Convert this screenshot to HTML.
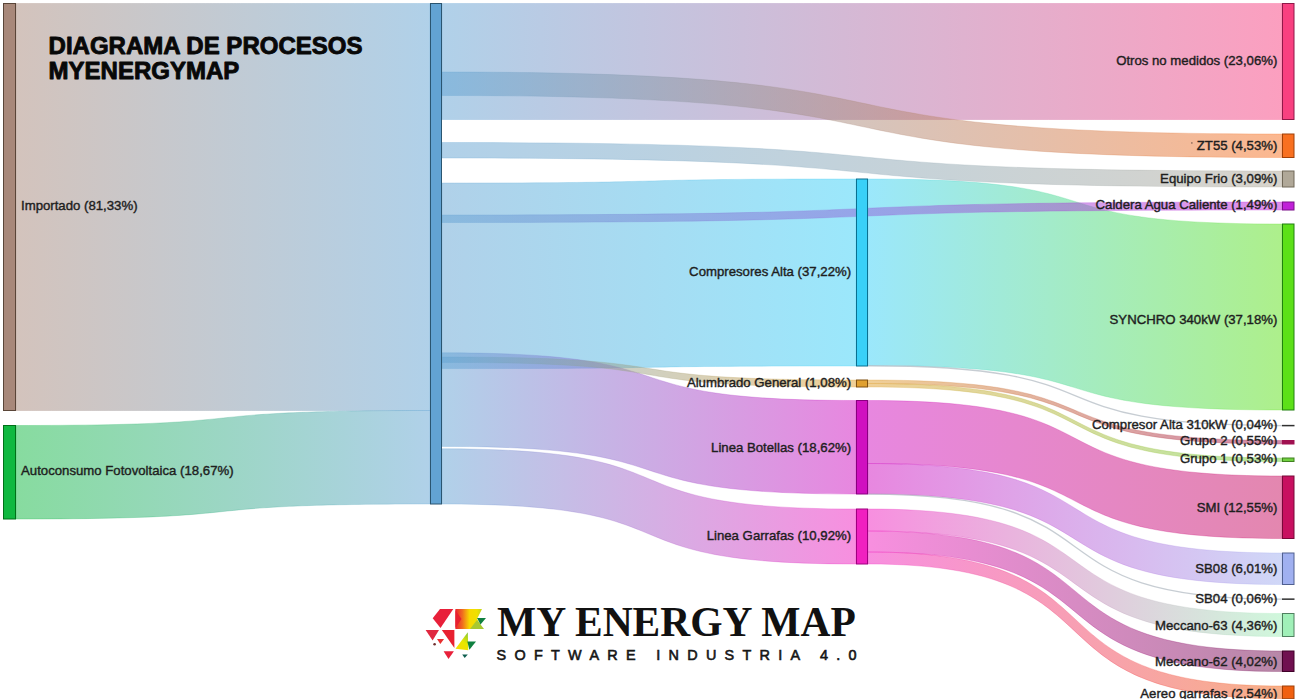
<!DOCTYPE html>
<html><head><meta charset="utf-8"><title>Diagrama de procesos</title>
<style>
html,body{margin:0;padding:0;background:#fff;width:1298px;height:699px;overflow:hidden}
svg{display:block}
svg{font-family:"Liberation Sans",sans-serif}
</style></head><body>
<svg width="1298" height="699" viewBox="0 0 1298 699">
<defs>
<linearGradient id="g0" gradientUnits="userSpaceOnUse" x1="16.0" y1="0" x2="430.0" y2="0"><stop offset="0" stop-color="#a8887a"/><stop offset="1" stop-color="#62a3d3"/></linearGradient>
<linearGradient id="g1" gradientUnits="userSpaceOnUse" x1="16.0" y1="0" x2="430.0" y2="0"><stop offset="0" stop-color="#10b840"/><stop offset="1" stop-color="#62a3d3"/></linearGradient>
<linearGradient id="g2" gradientUnits="userSpaceOnUse" x1="442.0" y1="0" x2="1282.0" y2="0"><stop offset="0" stop-color="#62a3d3"/><stop offset="1" stop-color="#f84080"/></linearGradient>
<linearGradient id="g3" gradientUnits="userSpaceOnUse" x1="442.0" y1="0" x2="1282.0" y2="0"><stop offset="0" stop-color="#62a3d3"/><stop offset="1" stop-color="#f87020"/></linearGradient>
<linearGradient id="g4" gradientUnits="userSpaceOnUse" x1="442.0" y1="0" x2="1282.0" y2="0"><stop offset="0" stop-color="#62a3d3"/><stop offset="1" stop-color="#b0a898"/></linearGradient>
<linearGradient id="g5" gradientUnits="userSpaceOnUse" x1="442.0" y1="0" x2="856.0" y2="0"><stop offset="0" stop-color="#62a3d3"/><stop offset="1" stop-color="#38d0f8"/></linearGradient>
<linearGradient id="g6" gradientUnits="userSpaceOnUse" x1="442.0" y1="0" x2="856.0" y2="0"><stop offset="0" stop-color="#62a3d3"/><stop offset="1" stop-color="#d010c0"/></linearGradient>
<linearGradient id="g7" gradientUnits="userSpaceOnUse" x1="442.0" y1="0" x2="856.0" y2="0"><stop offset="0" stop-color="#62a3d3"/><stop offset="1" stop-color="#e0a030"/></linearGradient>
<linearGradient id="g8" gradientUnits="userSpaceOnUse" x1="442.0" y1="0" x2="856.0" y2="0"><stop offset="0" stop-color="#62a3d3"/><stop offset="1" stop-color="#f020c0"/></linearGradient>
<linearGradient id="g9" gradientUnits="userSpaceOnUse" x1="868.0" y1="0" x2="1282.0" y2="0"><stop offset="0" stop-color="#38d0f8"/><stop offset="1" stop-color="#5ce018"/></linearGradient>
<linearGradient id="g10" gradientUnits="userSpaceOnUse" x1="868.0" y1="0" x2="1282.0" y2="0"><stop offset="0" stop-color="#38d0f8"/><stop offset="1" stop-color="#303030"/></linearGradient>
<linearGradient id="g11" gradientUnits="userSpaceOnUse" x1="868.0" y1="0" x2="1282.0" y2="0"><stop offset="0" stop-color="#e0a030"/><stop offset="1" stop-color="#a01050"/></linearGradient>
<linearGradient id="g12" gradientUnits="userSpaceOnUse" x1="868.0" y1="0" x2="1282.0" y2="0"><stop offset="0" stop-color="#e0a030"/><stop offset="1" stop-color="#70d040"/></linearGradient>
<linearGradient id="g13" gradientUnits="userSpaceOnUse" x1="868.0" y1="0" x2="1282.0" y2="0"><stop offset="0" stop-color="#d010c0"/><stop offset="1" stop-color="#c81060"/></linearGradient>
<linearGradient id="g14" gradientUnits="userSpaceOnUse" x1="868.0" y1="0" x2="1282.0" y2="0"><stop offset="0" stop-color="#d010c0"/><stop offset="1" stop-color="#a0b0f0"/></linearGradient>
<linearGradient id="g15" gradientUnits="userSpaceOnUse" x1="868.0" y1="0" x2="1282.0" y2="0"><stop offset="0" stop-color="#d010c0"/><stop offset="1" stop-color="#303030"/></linearGradient>
<linearGradient id="g16" gradientUnits="userSpaceOnUse" x1="868.0" y1="0" x2="1282.0" y2="0"><stop offset="0" stop-color="#f020c0"/><stop offset="1" stop-color="#a0f0b8"/></linearGradient>
<linearGradient id="g17" gradientUnits="userSpaceOnUse" x1="868.0" y1="0" x2="1282.0" y2="0"><stop offset="0" stop-color="#f020c0"/><stop offset="1" stop-color="#701050"/></linearGradient>
<linearGradient id="g18" gradientUnits="userSpaceOnUse" x1="868.0" y1="0" x2="1282.0" y2="0"><stop offset="0" stop-color="#f020c0"/><stop offset="1" stop-color="#f06010"/></linearGradient>
<linearGradient id="g19" gradientUnits="userSpaceOnUse" x1="442.0" y1="0" x2="1282.0" y2="0"><stop offset="0" stop-color="#62a3d3"/><stop offset="1" stop-color="#c020d8"/></linearGradient>
</defs>
<rect width="1298" height="699" fill="#fff"/>
<g fill-opacity="0.5">
<path d="M16.0,3.5C285.10,3.5 160.90,3.5 430.0,3.5L430.0,410.5C160.90,410.5 285.10,410.5 16.0,410.5Z" fill="url(#g0)" stroke="url(#g0)" stroke-opacity="0.35" stroke-width="0.8"/>
<path d="M16.0,425.5C285.10,425.5 160.90,410.5 430.0,410.5L430.0,504C160.90,504 285.10,519 16.0,519Z" fill="url(#g1)" stroke="url(#g1)" stroke-opacity="0.35" stroke-width="0.8"/>
<path d="M442.0,3.5C988.00,3.5 736.00,3.5 1282.0,3.5L1282.0,119.5C736.00,119.5 988.00,119.5 442.0,119.5Z" fill="url(#g2)" stroke="url(#g2)" stroke-opacity="0.35" stroke-width="0.8"/>
<path d="M442.0,72C988.00,72 736.00,134 1282.0,134L1282.0,157.5C736.00,157.5 988.00,95.5 442.0,95.5Z" fill="url(#g3)" stroke="url(#g3)" stroke-opacity="0.35" stroke-width="0.8"/>
<path d="M442.0,142.5C988.00,142.5 736.00,171 1282.0,171L1282.0,187C736.00,187 988.00,158 442.0,158Z" fill="url(#g4)" stroke="url(#g4)" stroke-opacity="0.35" stroke-width="0.8"/>
<path d="M442.0,183C711.10,183 586.90,179 856.0,179L856.0,366C586.90,366 711.10,368.6 442.0,368.6Z" fill="url(#g5)" stroke="url(#g5)" stroke-opacity="0.35" stroke-width="0.8"/>
<path d="M442.0,352.8C711.10,352.8 586.90,400.5 856.0,400.5L856.0,494C586.90,494 711.10,446.4 442.0,446.4Z" fill="url(#g6)" stroke="url(#g6)" stroke-opacity="0.35" stroke-width="0.8"/>
<path d="M442.0,357C711.10,357 586.90,380 856.0,380L856.0,387C586.90,387 711.10,362.4 442.0,362.4Z" fill="url(#g7)" stroke="url(#g7)" stroke-opacity="0.35" stroke-width="0.8"/>
<path d="M442.0,448.8C711.10,448.8 586.90,509 856.0,509L856.0,564C586.90,564 711.10,504 442.0,504Z" fill="url(#g8)" stroke="url(#g8)" stroke-opacity="0.35" stroke-width="0.8"/>
<path d="M868.0,179C1137.10,179 1012.90,224 1282.0,224L1282.0,410C1012.90,410 1137.10,365.5 868.0,365.5Z" fill="url(#g9)" stroke="url(#g9)" stroke-opacity="0.35" stroke-width="0.8"/>
<path d="M868.0,365.75C1137.10,365.75 1012.90,425.55 1282.0,425.55" fill="none" stroke="#b4bcc4" stroke-opacity="0.75" stroke-width="1.3"/>
<path d="M868.0,380C1137.10,380 1012.90,440.5 1282.0,440.5L1282.0,444C1012.90,444 1137.10,383.5 868.0,383.5Z" fill="url(#g11)" stroke="url(#g11)" stroke-opacity="0.35" stroke-width="0.8"/>
<path d="M868.0,383.5C1137.10,383.5 1012.90,458 1282.0,458L1282.0,461.5C1012.90,461.5 1137.10,387 868.0,387Z" fill="url(#g12)" stroke="url(#g12)" stroke-opacity="0.35" stroke-width="0.8"/>
<path d="M868.0,400.5C1137.10,400.5 1012.90,476 1282.0,476L1282.0,538.5C1012.90,538.5 1137.10,463.5 868.0,463.5Z" fill="url(#g13)" stroke="url(#g13)" stroke-opacity="0.35" stroke-width="0.8"/>
<path d="M868.0,463.5C1137.10,463.5 1012.90,553 1282.0,553L1282.0,584.5C1012.90,584.5 1137.10,494 868.0,494Z" fill="url(#g14)" stroke="url(#g14)" stroke-opacity="0.35" stroke-width="0.8"/>
<path d="M868.0,494.2C1137.10,494.2 1012.90,599.2 1282.0,599.2" fill="none" stroke="#b4bcc4" stroke-opacity="0.75" stroke-width="1.3"/>
<path d="M868.0,509C1137.10,509 1012.90,613.5 1282.0,613.5L1282.0,636.5C1012.90,636.5 1137.10,531 868.0,531Z" fill="url(#g16)" stroke="url(#g16)" stroke-opacity="0.35" stroke-width="0.8"/>
<path d="M868.0,531C1137.10,531 1012.90,651 1282.0,651L1282.0,671.5C1012.90,671.5 1137.10,552 868.0,552Z" fill="url(#g17)" stroke="url(#g17)" stroke-opacity="0.35" stroke-width="0.8"/>
<path d="M868.0,552C1137.10,552 1012.90,686 1282.0,686L1282.0,698.7C1012.90,698.7 1137.10,564 868.0,564Z" fill="url(#g18)" stroke="url(#g18)" stroke-opacity="0.35" stroke-width="0.8"/>
<path d="M442.0,215C988.00,215 736.00,202 1282.0,202L1282.0,210C736.00,210 988.00,222.5 442.0,222.5Z" fill="url(#g19)" stroke="url(#g19)" stroke-opacity="0.35" stroke-width="0.8"/>
</g>
<rect x="3.5" y="3.5" width="12" height="407.00" fill="#a8887a" stroke="#5a4538" stroke-width="1"/>
<rect x="3.5" y="425.5" width="12" height="93.50" fill="#10b840" stroke="#007018" stroke-width="1"/>
<rect x="430.5" y="3.5" width="11" height="500.50" fill="#62a3d3" stroke="#2a5570" stroke-width="1"/>
<rect x="856.5" y="179" width="11" height="187.00" fill="#38d0f8" stroke="#0a7090" stroke-width="1"/>
<rect x="856.5" y="380" width="11" height="7.00" fill="#e0a030" stroke="#805010" stroke-width="1"/>
<rect x="856.5" y="400.5" width="11" height="93.50" fill="#d010c0" stroke="#8a0080" stroke-width="1"/>
<rect x="856.5" y="509" width="11" height="55.00" fill="#f020c0" stroke="#a00080" stroke-width="1"/>
<rect x="1282.5" y="3.5" width="11.5" height="116.00" fill="#f84080" stroke="#901848" stroke-width="1"/>
<rect x="1282.5" y="134" width="11.5" height="23.50" fill="#f87020" stroke="#a04008" stroke-width="1"/>
<rect x="1282.5" y="171" width="11.5" height="16.00" fill="#b0a898" stroke="#706858" stroke-width="1"/>
<rect x="1282.5" y="202" width="11.5" height="8.00" fill="#c020d8" stroke="#7a1088" stroke-width="1"/>
<rect x="1282.5" y="224" width="11.5" height="186.00" fill="#5ce018" stroke="#208010" stroke-width="1"/>
<rect x="1282.0" y="424.85" width="12.5" height="1.5" fill="#303030"/>
<rect x="1282.5" y="440.5" width="11.5" height="3.50" fill="#a01050" stroke="#a01050" stroke-width="1"/>
<rect x="1282.5" y="458" width="11.5" height="3.50" fill="#70d040" stroke="#408020" stroke-width="1"/>
<rect x="1282.5" y="476" width="11.5" height="62.50" fill="#c81060" stroke="#780838" stroke-width="1"/>
<rect x="1282.5" y="553" width="11.5" height="31.50" fill="#a0b0f0" stroke="#506090" stroke-width="1"/>
<rect x="1282.0" y="598.4" width="12.5" height="1.5" fill="#303030"/>
<rect x="1282.5" y="613.5" width="11.5" height="23.00" fill="#a0f0b8" stroke="#508060" stroke-width="1"/>
<rect x="1282.5" y="651" width="11.5" height="20.50" fill="#701050" stroke="#400028" stroke-width="1"/>
<rect x="1282.5" y="686" width="11.5" height="12.70" fill="#f06010" stroke="#a04008" stroke-width="1"/>
<g font-size="13.2" fill="#1e1e1e" stroke="#1e1e1e" stroke-width="0.4">
<text x="21" y="210.30" text-anchor="start">Importado (81,33%)</text>
<text x="21" y="475.20" text-anchor="start">Autoconsumo Fotovoltaica (18,67%)</text>
<text x="851.1" y="276.10" text-anchor="end">Compresores Alta (37,22%)</text>
<text x="851.1" y="387.00" text-anchor="end">Alumbrado General (1,08%)</text>
<text x="851.1" y="452.30" text-anchor="end">Linea Botellas (18,62%)</text>
<text x="851.1" y="539.70" text-anchor="end">Linea Garrafas (10,92%)</text>
<text x="1277.4" y="65.40" text-anchor="end">Otros no medidos (23,06%)</text>
<text x="1277.4" y="149.60" text-anchor="end">ZT55 (4,53%)</text>
<text x="1277.4" y="183.20" text-anchor="end">Equipo Frio (3,09%)</text>
<text x="1277.4" y="209.10" text-anchor="end">Caldera Agua Caliente (1,49%)</text>
<text x="1277.4" y="324.10" text-anchor="end">SYNCHRO 340kW (37,18%)</text>
<text x="1277.4" y="428.90" text-anchor="end">Compresor Alta 310kW (0,04%)</text>
<text x="1277.4" y="445.40" text-anchor="end">Grupo 2 (0,55%)</text>
<text x="1277.4" y="463.40" text-anchor="end">Grupo 1 (0,53%)</text>
<text x="1277.4" y="511.60" text-anchor="end">SMI (12,55%)</text>
<text x="1277.4" y="573.00" text-anchor="end">SB08 (6,01%)</text>
<text x="1277.4" y="603.00" text-anchor="end">SB04 (0,06%)</text>
<text x="1277.4" y="630.30" text-anchor="end">Meccano-63 (4,36%)</text>
<text x="1277.4" y="665.80" text-anchor="end">Meccano-62 (4,02%)</text>
<text x="1277.4" y="697.60" text-anchor="end">Aereo garrafas (2,54%)</text>
<rect x="1191.2" y="142.3" width="1.3" height="1.3" fill="#6a5048" stroke="none"/>
</g>
<g font-size="24" font-weight="bold" fill="#080808" stroke="#080808" stroke-width="0.9" stroke-linejoin="round"><text x="48.6" y="54">DIAGRAMA DE PROCESOS</text><text x="48.6" y="79.4">MYENERGYMAP</text></g>
<g id="logo">
<text x="497" y="636.3" style="font-family:'Liberation Serif',serif" font-weight="bold" font-size="41.5" fill="#111">MY ENERGY MAP</text>
<text x="496.5" y="660" font-size="14.4" letter-spacing="8.3" fill="#161616" stroke="#161616" stroke-width="0.6">SOFTWARE INDUSTRIA 4.0</text>
<defs><linearGradient id="lg1" gradientUnits="userSpaceOnUse" x1="455" y1="0" x2="484" y2="0"><stop offset="0" stop-color="#e82030"/><stop offset="0.25" stop-color="#f06a20"/><stop offset="0.5" stop-color="#f8d800"/><stop offset="0.75" stop-color="#f0e000"/><stop offset="1" stop-color="#b0d030"/></linearGradient>
<linearGradient id="lg2" gradientUnits="userSpaceOnUse" x1="455" y1="650" x2="470" y2="632"><stop offset="0" stop-color="#f8d800"/><stop offset="0.5" stop-color="#e8e800"/><stop offset="1" stop-color="#70c040"/></linearGradient></defs>
<polygon points="440,609 453.3,609 440.5,628 432.7,618.2" fill="#e8203a"/>
<polygon points="455.4,609 482,609 477,619 483,629 455.4,629" fill="url(#lg1)"/>
<polygon points="455.4,610 461.5,619 455.4,628" fill="#e82030"/>
<polygon points="470,629 477,620 484,629" fill="#a8c830"/>
<polygon points="477,618 486,618 480.5,624.5" fill="#108040"/>
<polygon points="425.6,629.9 439,629.9 432.6,640.4" fill="#e02840"/>
<polygon points="441.8,629.9 454.4,629.9 454.4,648.1" fill="#e82030"/>
<polygon points="437,639.1 444.1,639.1 440.3,644" fill="#e83030"/>
<circle cx="434.6" cy="644.3" r="1.3" fill="#703030"/>
<polygon points="443.6,651.2 453.9,651.2 448.5,659" fill="#e8203a"/>
<polygon points="455.5,648.7 467.8,632.2 468.3,650.2" fill="url(#lg2)"/>
<polygon points="467.3,641.4 476,641.4 469.4,649.7" fill="#108040"/>
<polygon points="462.2,654.6 467.8,654.6 464.7,658" fill="#106050"/>
</g>
</svg>
</body></html>
